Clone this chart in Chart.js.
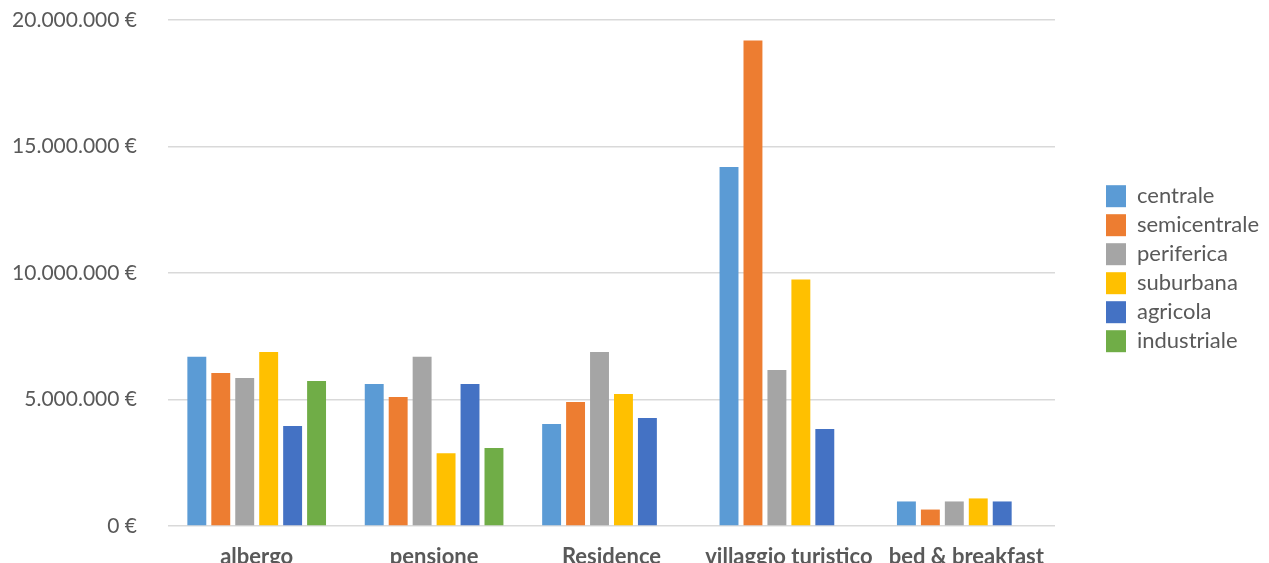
<!DOCTYPE html>
<html lang="it">
<head>
  <meta charset="UTF-8">
  <title>Prezzi per tipologia e zona</title>
  <script src="https://cdn.jsdelivr.net/npm/chart.js"></script>
  <style>
    html, body { margin: 0; padding: 0; background: #fff; }
    .grafico { width: 1269px; height: 563px; position: relative; }
  </style>
</head>
<body>
  <div class="grafico">
    <canvas id="myChart"></canvas>
  </div>
<script>
  // categorie e serie
  const categorie = ['albergo', 'pensione', 'Residence', 'villaggio turistico', 'bed & breakfast'];
  const centrale = [6690000, 5610000, 4030000, 14190000, 970000];
  const semicentrale = [6050000, 5100000, 4900000, 19190000, 650000];
  const periferica = [5850000, 6690000, 6880000, 6170000, 970000];
  const suburbana = [6880000, 2880000, 5220000, 9740000, 1090000];
  const agricola = [3950000, 5610000, 4270000, 3830000, 970000];
  const industriale = [5730000, 3080000, null, null, null];
  const tickValori = [0, 5000000, 10000000, 15000000, 20000000];

  const grigio = '#595959';
  const fontTesto = 'Lato';

  function euro(v) {
    return String(v).replace(/\B(?=(\d{3})+(?!\d))/g, '.') + ' €';
  }

  function serie(nome, dati, colore) {
    return {
      label: nome,
      data: dati,
      backgroundColor: colore,
      borderWidth: 0,
      categoryPercentage: 0.81,
      barPercentage: 0.79
    };
  }

  const dati = {
    labels: categorie,
    datasets: [
      serie('centrale', centrale, '#5B9BD5'),
      serie('semicentrale', semicentrale, '#ED7D31'),
      serie('periferica', periferica, '#A5A5A5'),
      serie('suburbana', suburbana, '#FFC000'),
      serie('agricola', agricola, '#4472C4'),
      serie('industriale', industriale, '#70AD47')
    ]
  };

  const config = {
    type: 'bar',
    data: dati,
    options: {
      responsive: true,
      maintainAspectRatio: false,
      animation: false,
      layout: { padding: { top: 20, right: 0, bottom: 0, left: 0 } },
      plugins: {
        tooltip: { enabled: false },
        legend: {
          position: 'right',
          align: 'start',
          // titolo vuoto usato solo per abbassare la legenda
          title: { display: true, text: '', padding: { top: 157, bottom: 0 }, font: { size: 1 } },
          labels: {
            boxWidth: 20,
            boxHeight: 22,
            padding: 7,
            color: grigio,
            font: { family: fontTesto, size: 22 }
          }
        }
      },
      scales: {
        x: {
          grid: { display: false },
          border: { display: false },
          ticks: {
            color: grigio,
            padding: 10,
            maxRotation: 0,
            font: { family: fontTesto, size: 22, weight: 'bold' }
          },
          afterFit: function (s) { s.height = 37; }
        },
        y: {
          min: 0,
          max: 20000000,
          afterBuildTicks: function (s) {
            s.ticks = tickValori.map(function (v) { return { value: v }; });
          },
          // tacche trasparenti per distanziare le etichette dall'area
          grid: { color: '#d9d9d9', lineWidth: 1.5, drawTicks: true, tickLength: 31, tickColor: 'rgba(0,0,0,0)' },
          border: { display: false },
          ticks: {
            color: grigio,
            padding: 0,
            font: { family: fontTesto, size: 21 },
            callback: function (v) { return euro(v); }
          },
          afterFit: function (s) { s.width = 168; }
        },
        // spazio vuoto tra area grafico e legenda
        spazio: {
          type: 'linear',
          position: 'right',
          display: true,
          grid: { display: false },
          border: { display: false },
          ticks: { display: false },
          afterFit: function (s) { s.width = 44; }
        }
      }
    }
  };

  new Chart(document.getElementById('myChart'), config);
</script>
</body>
</html>
